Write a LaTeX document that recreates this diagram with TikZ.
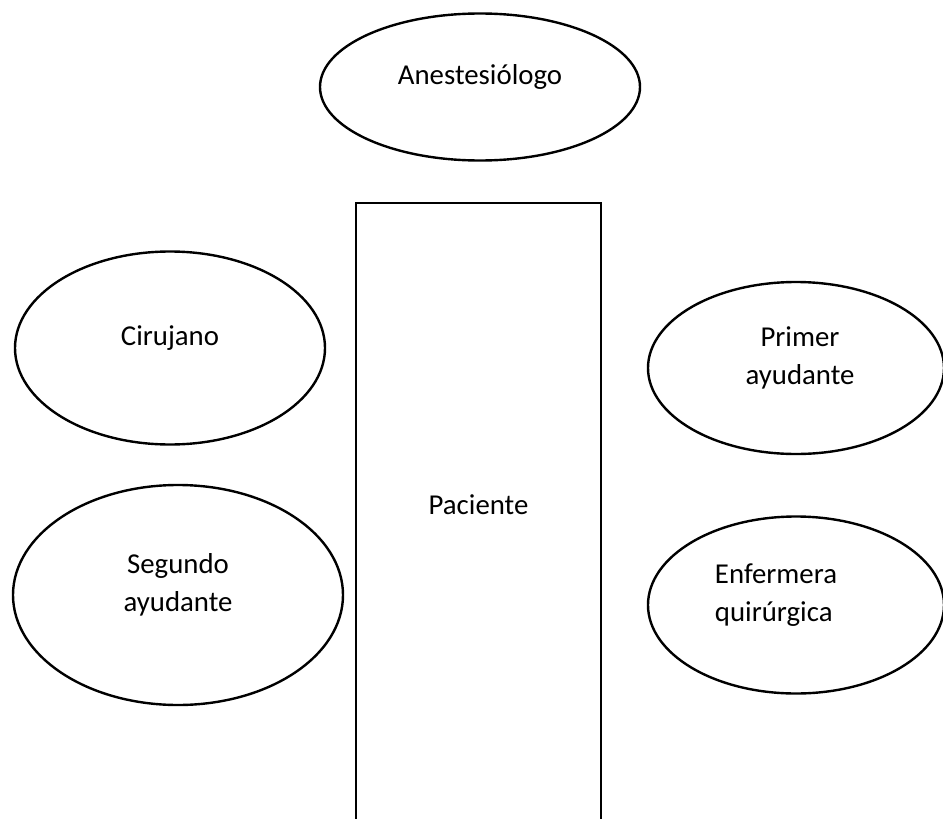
\documentclass[tikz,border=0pt]{standalone}
\usepackage{fontspec}
\setmainfont{Carlito}
\usepackage{tikz}
\usetikzlibrary{positioning,shapes.geometric}

\begin{document}
\begin{tikzpicture}[
      x=0.5pt, y=-0.5pt,
      persona/.style={draw, ellipse, line width=1.2pt, inner sep=0pt},
      mesa/.style={draw, rectangle, line width=1.2pt, inner sep=0pt, minimum width=122.5pt, minimum height=313.5pt},
      rotulo/.style={font=\fontsize{14.4}{19}\selectfont, align=center, yshift=5pt}
  ]
    \useasboundingbox (0,0) rectangle (943,819);

    \node[persona, minimum width=160pt, minimum height=73.5pt, label={[rotulo]center:Anestesiólogo}] (anest) at (480,87) {};

    \node[mesa, label={[rotulo, yshift=0.75pt]center:Paciente}] (paciente) at (478.5,516.5) {};

    \node[persona, minimum width=155pt, minimum height=96.5pt, label={[rotulo]center:Cirujano}] (cirujano) at (170,348) {};
    \node[persona, minimum width=165pt, minimum height=110pt, label={[rotulo]center:Segundo\\ayudante}] (segundo) at (178,595) {};

    \node[persona, minimum width=148pt, minimum height=86pt, label={[rotulo, xshift=2pt]center:Primer\\ayudante}] (primer) at (796,368) {};
    \node[persona, minimum width=148pt, minimum height=88.5pt, label={[rotulo, align=left, xshift=-10pt]center:Enfermera\\quirúrgica}] (enfermera) at (796,605) {};
  \end{tikzpicture}
\end{document}
